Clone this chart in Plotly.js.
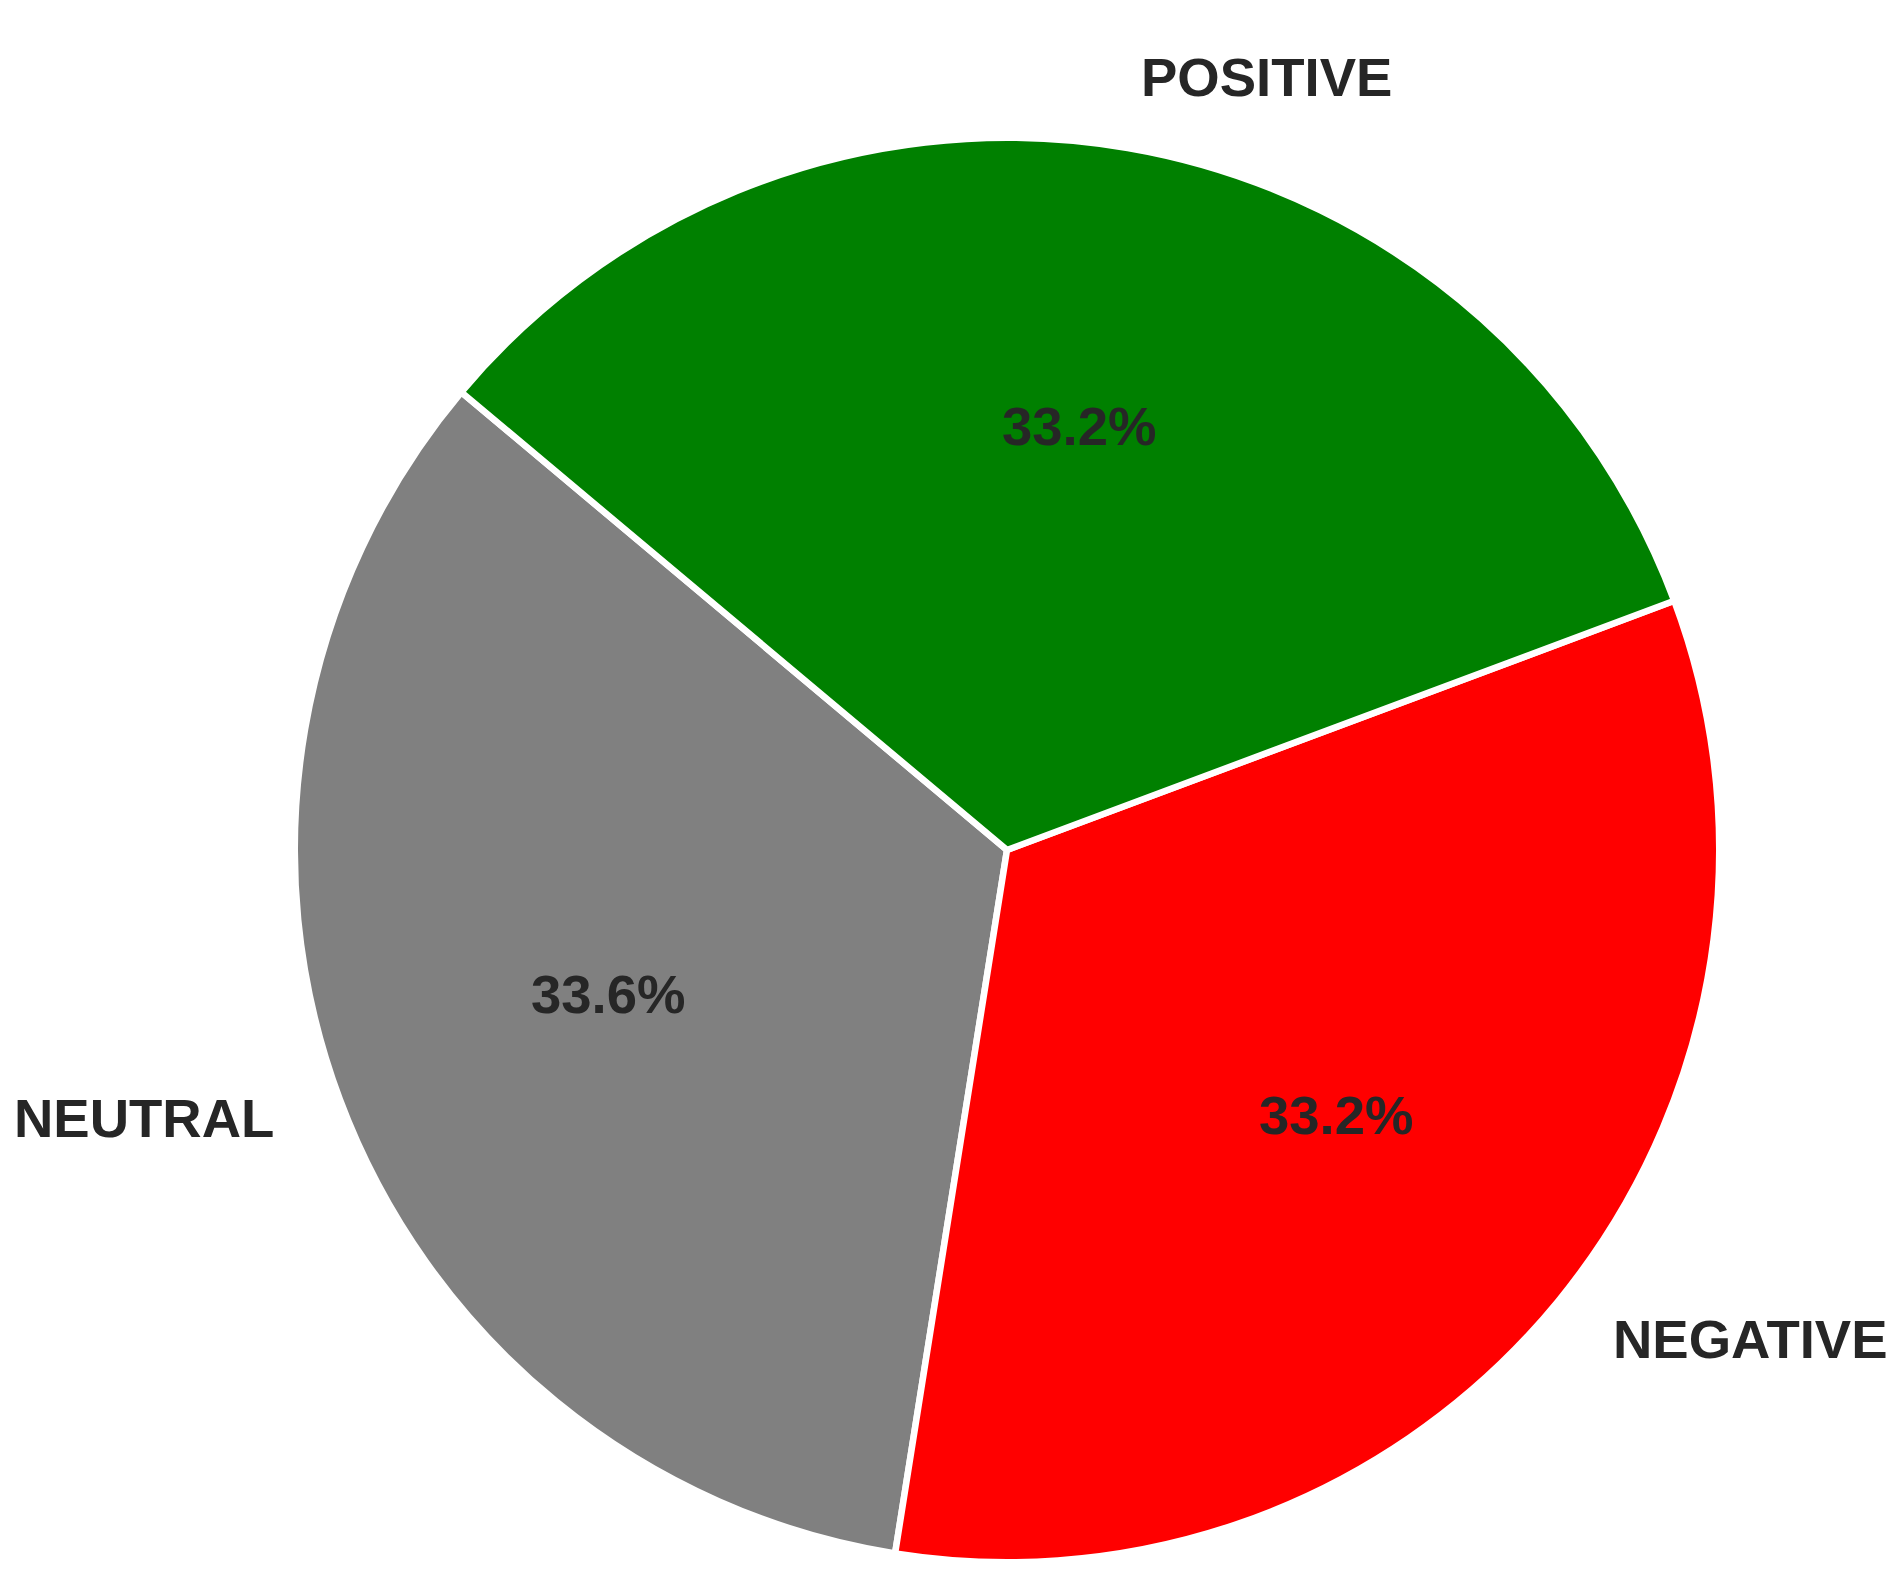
<!DOCTYPE html>
<html>
<head>
<meta charset="utf-8">
<script src="https://cdn.plot.ly/plotly-3.0.1.min.js"></script>
<style>html,body{margin:0;padding:0;background:#ffffff;}</style>
</head>
<body>
<div id="chart" style="width:1901px;height:1582px;"></div>
<script>
// ---- data ----
const labels = ['NEUTRAL', 'NEGATIVE', 'POSITIVE'];
const counts = [168, 166, 166];
const sliceColors = ['#808080', '#ff0000', '#008000'];

// ---- layout constants ----
const W = 1901, H = 1582;
const CX = 1007, CY = 850, R = 709;     // pie centre / visible radius in px
const TEXT_CY = 846;                    // vertical centre used for text placement
const EDGE_W = 6.5;                     // white wedge edge width
const START_ANGLE = 140;                // first slice starts here (deg, counter-clockwise)
const LABEL_DIST = 1.1, PCT_DIST = 0.6;
const textColor = '#262626';
const fontFamily = '"Liberation Sans", Arial, sans-serif';
const fontSize = 54.5;

const total = counts.reduce((a, b) => a + b, 0);
const annotations = [];
let cum = START_ANGLE;
counts.forEach((v, i) => {
  const span = v / total * 360;
  const mid = (cum + span / 2) * Math.PI / 180;
  cum += span;
  const cx = Math.cos(mid), sy = Math.sin(mid);
  // outer label
  const lx = CX + LABEL_DIST * R * cx, ly = TEXT_CY - LABEL_DIST * R * sy;
  annotations.push({
    xref: 'paper', yref: 'paper', x: lx / W, y: 1 - ly / H,
    text: labels[i], showarrow: false,
    xanchor: cx > 0 ? 'left' : 'right', yanchor: 'middle',
    font: {family: fontFamily, size: fontSize, color: textColor, weight: 'bold'}
  });
  // percentage
  const px = CX + PCT_DIST * R * cx, py = TEXT_CY - PCT_DIST * R * sy;
  annotations.push({
    xref: 'paper', yref: 'paper', x: px / W, y: 1 - py / H,
    text: (v / total * 100).toFixed(1) + '%', showarrow: false,
    xanchor: 'center', yanchor: 'middle',
    font: {family: fontFamily, size: fontSize, color: textColor, weight: 'bold'}
  });
});

// Plotly's counter-clockwise pies end the first slice at the rotation angle,
// so shift by the first slice's span to make it START at START_ANGLE.
const firstSpan = counts[0] / total * 360;
const RP = R + EDGE_W / 2;

const trace = {
  type: 'pie',
  labels: labels,
  values: counts,
  sort: false,
  direction: 'counterclockwise',
  rotation: 90 - START_ANGLE - firstSpan,
  textinfo: 'none',
  hoverinfo: 'label+percent',
  showlegend: false,
  marker: {colors: sliceColors, line: {color: '#ffffff', width: EDGE_W}},
  domain: {
    x: [(CX - RP) / W, (CX + RP) / W],
    y: [1 - (CY + RP) / H, 1 - (CY - RP) / H]
  }
};

const layout = {
  width: W, height: H,
  margin: {l: 0, r: 0, t: 0, b: 0, pad: 0},
  paper_bgcolor: '#ffffff', plot_bgcolor: '#ffffff',
  showlegend: false,
  annotations: annotations
};

Plotly.newPlot('chart', [trace], layout, {displayModeBar: false, staticPlot: true});
</script>
</body>
</html>
